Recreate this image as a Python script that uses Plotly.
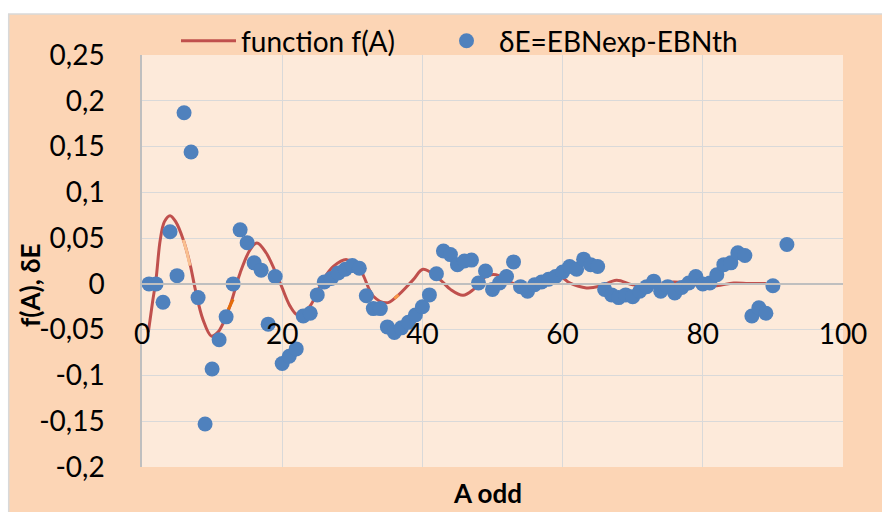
import plotly.graph_objects as go

# ---- data ----
curve_a = [0.9, 1.5, 2.0, 2.6, 3.2, 4.0, 4.8, 5.9, 6.9, 7.6, 8.7, 9.9, 10.8, 11.6, 12.6,
           14.0, 15.4, 16.4, 17.7, 19.7, 21.1, 22.1, 23.0, 24.0, 25.9, 27.3, 29.2, 31.1,
           33.0, 34.9, 36.3, 38.7, 40.1, 42.5, 44.0, 45.8, 47.3, 49.1, 50.5, 52.5, 54.5,
           56.5, 58.0, 59.6, 61.0, 63.4, 65.3, 67.7, 70.0, 72.5, 75.8, 78.0, 80.0, 82.0,
           84.4, 86.5, 89.0]
curve_f = [-0.053, -0.020, 0.005, 0.048, 0.068, 0.0745, 0.068, 0.048, 0.020, -0.006,
           -0.039, -0.057, -0.053, -0.0425, -0.023, 0.012, 0.037, 0.0447, 0.034, 0.001,
           -0.024, -0.0335, -0.031, -0.024, 0.005, 0.019, 0.0265, 0.0156, -0.0135,
           -0.0207, -0.014, 0.0047, 0.016, 0.0047, -0.006, -0.0125, -0.006, 0.0083,
           0.010, 0.002, -0.004, -0.003, 0.003, 0.008, 0.001, -0.0044, -0.0026, 0.004,
           -0.001, -0.002, 0.002, 0.0005, -0.002, -0.002, 0.001, 0.0005, 0.0003]

# short differently coloured pieces of the curve seen in the reference
seg_light_a = [5.9, 6.4, 6.85]
seg_light_f = [0.048, 0.035, 0.020]
seg_dark_a = [12.3, 12.65, 13.0]
seg_dark_f = [-0.028, -0.0225, -0.017]
seg_mid_a = [36.0, 36.3, 36.6]
seg_mid_f = [-0.016, -0.014, -0.012]

a_odd = list(range(1, 91)) + [92]
delta_e = [0.000, 0.000, -0.020, 0.057, 0.009, 0.187, 0.144, -0.015, -0.153, -0.093,
           -0.061, -0.036, 0.000, 0.059, 0.045, 0.023, 0.015, -0.044, 0.008, -0.087,
           -0.079, -0.071, -0.035, -0.032, -0.012, 0.002, 0.006, 0.012, 0.016, 0.020,
           0.017, -0.013, -0.027, -0.027, -0.047, -0.053, -0.048, -0.042, -0.034, -0.025,
           -0.012, 0.011, 0.036, 0.032, 0.021, 0.025, 0.026, 0.001, 0.014, -0.006,
           0.001, 0.008, 0.024, -0.003, -0.008, -0.001, 0.002, 0.005, 0.008, 0.013,
           0.019, 0.016, 0.027, 0.021, 0.019, -0.006, -0.012, -0.015, -0.012, -0.014,
           -0.008, -0.003, 0.003, -0.008, -0.003, -0.010, -0.004, 0.001, 0.008, 0.000,
           0.001, 0.010, 0.021, 0.023, 0.034, 0.031, -0.035, -0.026, -0.032, -0.002,
           0.043]

x_ticks = [0, 20, 40, 60, 80, 100]
x_tick_text = ["0", "20", "40", "60", "80", "100"]
y_ticks = [-0.2, -0.15, -0.1, -0.05, 0, 0.05, 0.1, 0.15, 0.2, 0.25]
y_tick_text = ["-0,2", "-0,15", "-0,1", "-0,05", "0", "0,05", "0,1", "0,15", "0,2", "0,25"]

FONT = "Lato, 'Open Sans', sans-serif"
W, H = 882, 512
ML, MR, MT, MB = 142, 39, 55, 45
PW, PH = W - ML - MR, H - MT - MB


def px_x(p):  # picture pixel -> paper fraction
    return (p - ML) / PW


def px_y(p):
    return (H - MB - p) / PH


fig = go.Figure()
fig.add_trace(go.Scatter(
    x=curve_a, y=curve_f, mode="lines", name="function f(A)", legend="legend",
    line=dict(color="#C0504D", width=3, shape="spline", smoothing=1.0),
))
for sa, sf, col in [(seg_light_a, seg_light_f, "#FAC090"),
                    (seg_dark_a, seg_dark_f, "#E46C0A"),
                    (seg_mid_a, seg_mid_f, "#F79646")]:
    fig.add_trace(go.Scatter(x=sa, y=sf, mode="lines", showlegend=False,
                             line=dict(color=col, width=3), hoverinfo="skip"))
fig.add_trace(go.Scatter(
    x=a_odd, y=delta_e, mode="markers", name="δE=EBNexp-EBNth", legend="legend2",
    marker=dict(color="#4F81BD", size=15, line=dict(width=0)),
))

grid = "#D9D9D9"
leg_common = dict(orientation="h", xanchor="left", yanchor="middle", y=px_y(41),
                  bgcolor="rgba(0,0,0,0)", font=dict(size=28, family=FONT), itemwidth=55)
fig.update_layout(
    width=W, height=H,
    margin=dict(l=ML, r=MR, t=MT, b=MB, pad=0, autoexpand=False),
    paper_bgcolor="#FCD5B5",
    plot_bgcolor="#FDEADA",
    font=dict(family=FONT, size=28, color="#000000"),
    showlegend=True,
    legend=dict(x=px_x(176), **leg_common),
    legend2=dict(x=px_x(434), **leg_common),
    xaxis=dict(range=[0, 100], tickvals=x_ticks, ticktext=x_tick_text,
               showgrid=True, gridcolor=grid, gridwidth=1.3, zeroline=False,
               showline=True, linecolor="#BFBFBF", linewidth=1.5,
               anchor="free", position=0.2 / 0.45,
               ticks="outside", ticklen=26, tickcolor="rgba(0,0,0,0)",
               tickfont=dict(size=28, family=FONT)),
    yaxis=dict(range=[-0.2, 0.25], tickvals=y_ticks, ticktext=y_tick_text,
               showgrid=True, gridcolor=grid, gridwidth=1.3, zeroline=False,
               showline=True, linecolor="#BFBFBF", linewidth=1.5,
               ticks="outside", ticklen=30, tickcolor="rgba(0,0,0,0)",
               tickfont=dict(size=28, family=FONT)),
    annotations=[
        dict(text="<b>f(A), δE</b>", xref="paper", yref="paper", x=px_x(30), y=px_y(285),
             xanchor="center", yanchor="middle", textangle=-90, showarrow=False,
             font=dict(size=26, family=FONT)),
        dict(text="<b>A odd</b>", xref="paper", yref="paper", x=px_x(487), y=px_y(493),
             xanchor="center", yanchor="middle", showarrow=False,
             font=dict(size=26, family=FONT)),
    ],
    shapes=[
        dict(type="rect", xref="paper", yref="paper", x0=px_x(-2), x1=px_x(890),
             y0=px_y(14), y1=px_y(-2), fillcolor="#FFFFFF", line=dict(width=0), layer="below"),
        dict(type="rect", xref="paper", yref="paper", x0=px_x(-2), x1=px_x(8),
             y0=px_y(520), y1=px_y(-2), fillcolor="#FFFFFF", line=dict(width=0), layer="below"),
        dict(type="line", xref="paper", yref="paper", x0=px_x(8), x1=px_x(890),
             y0=px_y(14), y1=px_y(14), line=dict(color="#D9D9D9", width=1.5)),
        dict(type="line", xref="paper", yref="paper", x0=px_x(8.7), x1=px_x(8.7),
             y0=px_y(14), y1=px_y(520), line=dict(color="#D9D9D9", width=1.5)),
    ],
)

fig.write_html(
    "out.html",
    config={"displayModeBar": False},
    post_script="document.body.style.margin='0';document.body.style.overflow='hidden';",
)
